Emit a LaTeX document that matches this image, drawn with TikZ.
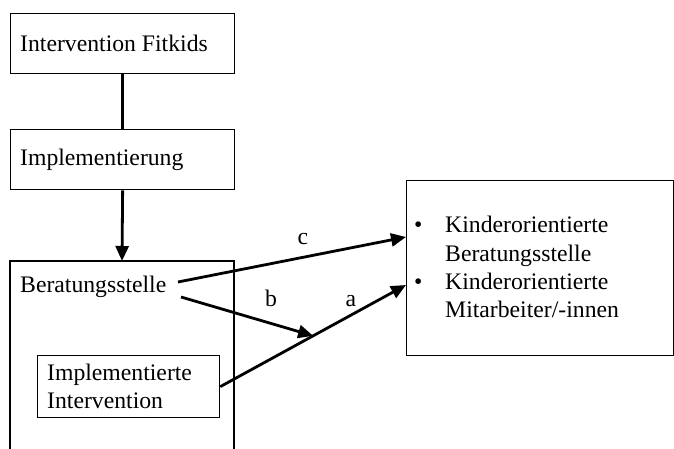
\documentclass[tikz,border=0pt]{standalone}
\usepackage{fontspec}
\setmainfont{Liberation Serif}
\usetikzlibrary{arrows.meta}
\begin{document}
\begin{tikzpicture}[x=1bp,y=-1bp,
  box/.style={draw, line width=1.3bp, inner sep=0, anchor=north west},
  txt/.style={inner sep=0, anchor=base west, font=\fontsize{23.7bp}{28.5bp}\selectfont},
  lbl/.style={inner sep=0, anchor=base, font=\fontsize{23.7bp}{28.5bp}\selectfont},
  conn/.style={line width=3.5bp},
  arr/.style={line width=2.8bp, -{Triangle[length=15bp,width=13bp]}}]
\useasboundingbox (0,0) rectangle (674,449);
% boxes
\node[box, minimum width=224bp, minimum height=60bp] (fit) at (10,13) {};
\node[box, minimum width=224bp, minimum height=60bp] (imp) at (10,129) {};
\node[box, minimum width=182bp, minimum height=62bp] (ia) at (37,355) {};
\node[box, minimum width=267bp, minimum height=175bp] (rb) at (406,180) {};
\coordinate (bst) at (122,261);
\draw[line width=1.3bp] (10,449) -- (10,261) -- (bst) -- (234,261) -- (234,449);
% texts
\node[txt] (t1) at (20,52) {Intervention Fitkids};
\node[txt] (t2) at (20,166) {Implementierung};
\node[txt] (t3) at (20,293) {Beratungsstelle};
\node[txt] (t4) at (47,380) {Implementierte};
\node[txt] (t5) at (47,408) {Intervention};
\node[txt] (b1) at (414,233) {•};
\node[txt] (r1) at (445,233) {Kinderorientierte};
\node[txt] (r2) at (445,262) {Beratungsstelle};
\node[txt] (b2) at (414,290) {•};
\node[txt] (r3) at (445,290) {Kinderorientierte};
\node[txt] (r4) at (445,318) {Mitarbeiter/-innen};
% connectors
\draw[conn] (fit.south) -- (imp.north);
\draw[arr] (imp.south) -- (bst);
\coordinate (cs) at (178,282);
\coordinate (bs) at (181,297);
\coordinate (cend) at ([yshift=-57bp]rb.north west);
\coordinate (aend) at ([yshift=-105bp]rb.north west);
\draw[arr] (cs) -- (cend);
\draw[arr] (ia.east) -- coordinate[pos=0.5] (amid) (aend);
\draw[arr] (bs) -- (amid);
% labels
\node[lbl] (lc) at (303,245) {c};
\node[lbl] (lb) at (271,307) {b};
\node[lbl] (la) at (351,307) {a};
\end{tikzpicture}
\end{document}
